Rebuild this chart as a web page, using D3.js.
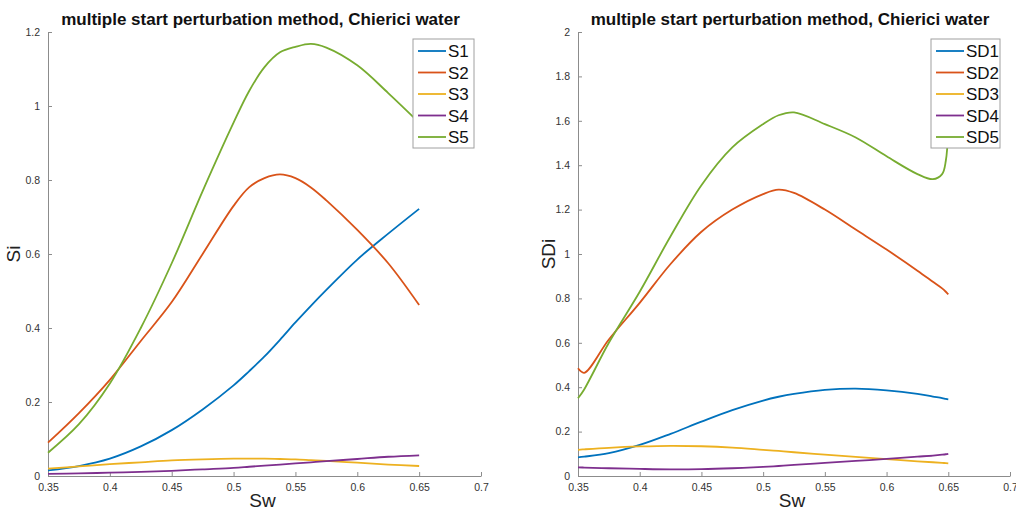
<!DOCTYPE html>
<html><head><meta charset="utf-8">
<script src="https://cdn.jsdelivr.net/npm/d3@7"></script>
<style>html,body{margin:0;padding:0;background:#fff;}svg{display:block;font-family:"Liberation Sans",Arial,Helvetica,sans-serif;}</style>
</head><body>
<svg id="c" width="1016" height="514"></svg>
<script>
// ---- data ----
const swLeft = [0.35,0.375,0.4,0.425,0.45,0.475,0.5,0.5125,0.525,0.5375,0.55,0.5625,0.575,0.6,0.625,0.65];
const S1 = [0.015,0.027,0.047,0.08,0.124,0.18,0.245,0.283,0.323,0.368,0.415,0.46,0.503,0.585,0.655,0.722];
const S2 = [0.09,0.17,0.26,0.365,0.47,0.6,0.73,0.78,0.805,0.815,0.805,0.78,0.745,0.665,0.575,0.462];
const S3 = [0.02,0.026,0.032,0.037,0.042,0.045,0.047,0.047,0.047,0.046,0.045,0.043,0.041,0.036,0.031,0.027];
const S4 = [0.006,0.007,0.009,0.011,0.014,0.018,0.022,0.025,0.028,0.031,0.034,0.037,0.04,0.046,0.052,0.056];
const S5 = [0.063,0.14,0.25,0.4,0.575,0.77,0.955,1.04,1.105,1.145,1.16,1.168,1.158,1.11,1.035,0.955];

const swRight = [0.35,0.355,0.375,0.4,0.425,0.45,0.475,0.5,0.5125,0.525,0.55,0.575,0.6,0.625,0.6375,0.645,0.648,0.65];
const SD1 = [0.084,0.087,0.103,0.14,0.19,0.245,0.297,0.34,0.357,0.37,0.388,0.394,0.386,0.37,0.358,0.351,0.347,0.345];
const SD2 = [0.485,0.465,0.615,0.78,0.955,1.1,1.2,1.27,1.29,1.275,1.2,1.11,1.02,0.925,0.875,0.845,0.83,0.818];
const SD3 = [0.118,0.12,0.127,0.133,0.136,0.134,0.128,0.118,0.113,0.107,0.096,0.086,0.076,0.066,0.062,0.059,0.058,0.057];
const SD4 = [0.039,0.038,0.035,0.032,0.030,0.031,0.035,0.041,0.045,0.05,0.059,0.068,0.077,0.087,0.092,0.096,0.098,0.1];
const SD5 = [0.35,0.39,0.6,0.83,1.08,1.31,1.48,1.585,1.625,1.638,1.585,1.525,1.44,1.36,1.337,1.36,1.42,1.56];

const xTicks = [0.35,0.4,0.45,0.5,0.55,0.6,0.65,0.7];
const yTicksLeft = [0,0.2,0.4,0.6,0.8,1,1.2];
const yTicksRight = [0,0.2,0.4,0.6,0.8,1,1.2,1.4,1.6,1.8,2];
const namesLeft = ["S1","S2","S3","S4","S5"];
const namesRight = ["SD1","SD2","SD3","SD4","SD5"];
const colors = ["#0072BD","#D95319","#EDB120","#7E2F8E","#77AC30"];
const titleText = "multiple start perturbation method, Chierici water";

const svg = d3.select("#c");

function panel(opt){
  const x = d3.scaleLinear().domain([0.35,0.7]).range([opt.x0, opt.x1]);
  const y = d3.scaleLinear().domain([0, opt.ymax]).range([476, 32]);
  const g = svg.append("g");
  const ax = g.append("g").attr("transform","translate(0,476)")
    .call(d3.axisBottom(x).tickValues(xTicks).tickSizeInner(-4).tickSizeOuter(0).tickPadding(6).tickFormat(d3.format("")));
  const ay = g.append("g").attr("transform",`translate(${opt.x0},0)`)
    .call(d3.axisLeft(y).tickValues(opt.yTicks).tickSizeInner(-4).tickSizeOuter(0).tickPadding(8).tickFormat(d3.format("")));
  [ax,ay].forEach(a=>{
    a.select(".domain").attr("stroke","#8c8c8c").attr("stroke-width",1);
    a.selectAll(".tick line").attr("stroke","#8c8c8c");
    a.selectAll(".tick text").attr("fill","#333").style("font-size","10.5px").style("font-family","'Liberation Sans',Arial,sans-serif");
  });
  ax.selectAll(".tick text").attr("dy","0.9em");
  const line = d3.line().x((d,i)=>x(opt.xs[i])).y(d=>y(d)).curve(d3.curveCatmullRom.alpha(0.5));
  opt.series.forEach((s,i)=>{
    g.append("path").datum(s).attr("d", line).attr("fill","none")
      .attr("stroke", colors[i]).attr("stroke-width",1.8).attr("stroke-linejoin","round");
  });
  g.append("text").attr("x",(opt.x0+opt.x1)/2 - 4).attr("y",25).attr("text-anchor","middle")
    .style("font-weight","bold").style("font-size","17px").attr("fill","#111").text(titleText);
  g.append("text").attr("x",(opt.x0+opt.x1)/2 - 2).attr("y",507).attr("text-anchor","middle")
    .style("font-size","19px").attr("fill","#222").text("Sw");
  g.append("text").attr("transform",`translate(${opt.ylabX},254) rotate(-90)`).attr("text-anchor","middle")
    .attr("dy","0.35em").style("font-size","19px").attr("fill","#222").text(opt.ylab);
  const lg = g.append("g");
  lg.append("rect").attr("x",opt.lx).attr("y",39).attr("width",opt.lw).attr("height",109)
    .attr("fill","#fff").attr("stroke","#a0a0a0").attr("stroke-width",1);
  opt.names.forEach((n,i)=>{
    const yy = 51 + i*21.5;
    lg.append("line").attr("x1",opt.lx+5).attr("x2",opt.lx+33).attr("y1",yy).attr("y2",yy)
      .attr("stroke",colors[i]).attr("stroke-width",1.8);
    lg.append("text").attr("x",opt.lx+35).attr("y",yy).attr("dy","0.36em")
      .style("font-size","17px").attr("fill","#111").text(n);
  });
}

panel({x0:48, x1:481, ymax:1.2, yTicks:yTicksLeft, xs:swLeft, series:[S1,S2,S3,S4,S5],
  names:namesLeft, ylab:"Si", ylabX:13, lx:413, lw:61});
panel({x0:578, x1:1010, ymax:2, yTicks:yTicksRight, xs:swRight, series:[SD1,SD2,SD3,SD4,SD5],
  names:namesRight, ylab:"SDi", ylabX:548, lx:931, lw:69});
</script>
</body></html>
